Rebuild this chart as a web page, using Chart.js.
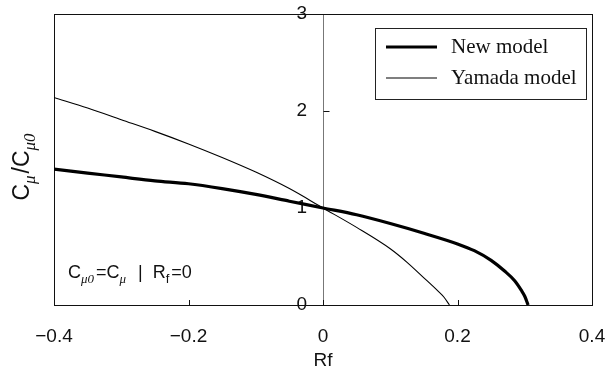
<!DOCTYPE html>
<html>
<head>
<meta charset="utf-8">
<script src="https://cdn.jsdelivr.net/npm/chart.js@4/dist/chart.umd.min.js"></script>
<style>
html,body{margin:0;padding:0;background:#fff;}
#wrap{width:608px;height:375px;position:relative;}
</style>
</head>
<body>
<div id="wrap"><canvas id="c" width="608" height="375"></canvas></div>
<script>
// ---- data ----
const rfNew   = [-0.4, -0.35, -0.3, -0.25, -0.2, -0.15, -0.1, -0.05, 0, 0.05, 0.1, 0.15, 0.2, 0.225, 0.25, 0.27, 0.285, 0.295, 0.3, 0.305];
const cmuNew  = [1.40, 1.36, 1.32, 1.28, 1.25, 1.20, 1.14, 1.07, 1.00, 0.93, 0.84, 0.74, 0.63, 0.56, 0.46, 0.35, 0.25, 0.15, 0.09, 0];
const rfYam   = [-0.4, -0.35, -0.3, -0.25, -0.2, -0.15, -0.1, -0.05, 0, 0.05, 0.1, 0.125, 0.15, 0.17, 0.18, 0.188];
const cmuYam  = [2.14, 2.03, 1.91, 1.79, 1.66, 1.52, 1.37, 1.20, 1.00, 0.80, 0.58, 0.44, 0.28, 0.15, 0.08, 0];
const xTicks  = [-0.4, -0.2, 0, 0.2, 0.4];
const yTicks  = [0, 1, 2, 3];
const seriesNames = ['New model', 'Yamada model'];
const xTitle = 'Rf';

const toPts = (xs, ys) => xs.map((x, i) => ({x: x, y: ys[i]}));

function pieceFont(p, size) {
  const fs = p[1] ? Math.round(size * 0.72) : size;
  return (p[2] ? 'italic ' : '') + fs + 'px ' + (p[2] ? '"Liberation Serif"' : '"Liberation Sans", Arial');
}
function drawRich(ctx, pieces, x, y, size) {
  let cx = x;
  pieces.forEach(p => {
    ctx.font = pieceFont(p, size);
    const dy = p[1] ? size * 0.28 : 0;
    ctx.fillText(p[0], cx, y + dy);
    cx += ctx.measureText(p[0]).width + (p[1] ? 2 : 0);
  });
  return cx - x;
}
function richWidth(ctx, pieces, size) {
  let w = 0;
  pieces.forEach(p => {
    ctx.font = pieceFont(p, size);
    w += ctx.measureText(p[0]).width + (p[1] ? 2 : 0);
  });
  return w;
}

const yTitlePieces = [['C', false, false], ['\u03bc', true, true], ['/C', false, false], ['\u03bc0', true, true]];
const notePieces = [['C', false, false], ['\u03bc0', true, true], ['=C', false, false], ['\u03bc', true, true], ['  |  R', false, false], ['f', true, false], ['=0', false, false]];

const decor = {
  id: 'decor',
  beforeDatasetsDraw(chart) {
    const ctx = chart.ctx, a = chart.chartArea;
    const xs = chart.scales.x, ys = chart.scales.y;
    ctx.save();
    ctx.strokeStyle = '#111';
    ctx.lineWidth = 1;
    ctx.strokeRect(Math.round(a.left) + 0.5, Math.round(a.top) + 0.5, Math.round(a.right - a.left), Math.round(a.bottom - a.top));
    xTicks.forEach(v => {
      const px = Math.round(xs.getPixelForValue(v)) + 0.5;
      ctx.beginPath(); ctx.moveTo(px, a.bottom); ctx.lineTo(px, a.bottom - 5); ctx.stroke();
    });
    const x0 = Math.round(xs.getPixelForValue(0)) + 0.5;
    yTicks.forEach(v => {
      const py = Math.round(ys.getPixelForValue(v)) + 0.5;
      ctx.beginPath(); ctx.moveTo(x0, py); ctx.lineTo(x0 + 6, py); ctx.stroke();
    });
    ctx.restore();
  },
  afterDraw(chart) {
    const ctx = chart.ctx, a = chart.chartArea;
    ctx.save();
    ctx.fillStyle = '#111';
    ctx.textBaseline = 'alphabetic';
    ctx.textAlign = 'left';
    ctx.save();
    ctx.translate(29, 166);
    ctx.rotate(-Math.PI / 2);
    const w = richWidth(ctx, yTitlePieces, 23);
    drawRich(ctx, yTitlePieces, -w / 2, 0, 23);
    ctx.restore();
    drawRich(ctx, notePieces, a.left + 14, 278, 18);
    const lx = 375, ly = 28, lw = 211, lh = 71;
    ctx.fillStyle = '#fff';
    ctx.fillRect(lx, ly, lw, lh);
    ctx.strokeStyle = '#222';
    ctx.lineWidth = 1;
    ctx.strokeRect(lx + 0.5, ly + 0.5, lw, lh);
    ctx.fillStyle = '#111';
    ctx.font = '21px "Liberation Serif", "Times New Roman", serif';
    ctx.textBaseline = 'middle';
    chart.data.datasets.forEach((ds, i) => {
      const yy = ly + 19 + i * 31;
      ctx.strokeStyle = ds.borderColor;
      ctx.lineWidth = ds.borderWidth;
      ctx.beginPath(); ctx.moveTo(386, yy); ctx.lineTo(437, yy); ctx.stroke();
      ctx.fillText(ds.label, 451, yy);
    });
    ctx.restore();
  }
};

const zeroPad = s => { s.paddingTop = 0; s.paddingBottom = 0; s.paddingLeft = 0; s.paddingRight = 0; };

new Chart(document.getElementById('c'), {
  type: 'line',
  data: {
    datasets: [
      { label: seriesNames[0], data: toPts(rfNew, cmuNew), borderColor: '#000', borderWidth: 3.2,
        pointRadius: 0, fill: false, cubicInterpolationMode: 'monotone' },
      { label: seriesNames[1], data: toPts(rfYam, cmuYam), borderColor: '#000', borderWidth: 1.1,
        pointRadius: 0, fill: false, cubicInterpolationMode: 'monotone' }
    ]
  },
  options: {
    responsive: false,
    animation: false,
    events: [],
    layout: { padding: { left: 54, right: 16, top: 14, bottom: 0 } },
    plugins: { legend: { display: false }, tooltip: { enabled: false } },
    scales: {
      x: {
        type: 'linear', min: -0.4, max: 0.4,
        afterBuildTicks: s => { s.ticks = xTicks.map(v => ({value: v})); },
        afterFit: s => { s.height = 70; zeroPad(s); },
        ticks: {
          color: '#111', padding: 22,
          font: { family: '"Liberation Sans", Arial', size: 19, lineHeight: 1 },
          callback: v => (v < 0 ? '\u2212' : '') + Math.abs(v).toString()
        },
        grid: { display: false, drawTicks: false },
        border: { display: false },
        title: { display: true, text: xTitle, color: '#111', padding: { top: 5, bottom: 5 },
                 font: { family: '"Liberation Sans", Arial', size: 19, lineHeight: 1 } }
      },
      y: {
        type: 'linear', min: 0, max: 3,
        position: { x: 0 },
        afterBuildTicks: s => { s.ticks = yTicks.map(v => ({value: v})); },
        afterFit: s => { zeroPad(s); },
        ticks: { color: '#111', padding: 12, font: { family: '"Liberation Sans", Arial', size: 19 },
                 callback: v => v + '   ' },
        grid: { display: false, drawTicks: false },
        border: { display: true, color: '#777', width: 1 }
      }
    }
  },
  plugins: [decor]
});
</script>
</body>
</html>
